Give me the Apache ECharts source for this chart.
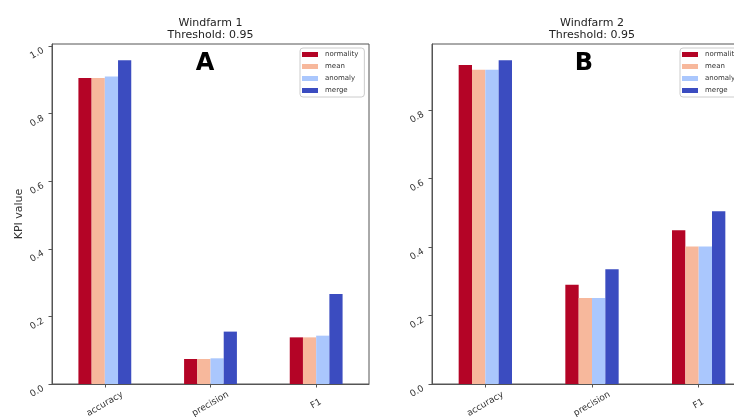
<!DOCTYPE html>
<html>
<head>
<meta charset="utf-8">
<script src="https://cdn.jsdelivr.net/npm/echarts@6/dist/echarts.min.js"></script>
<style>
  html, body { margin: 0; padding: 0; background: #fff; }
  #chart { width: 734px; height: 417px; }
</style>
</head>
<body>
<div id="chart"></div>
<script>
// KPI categories and method names
const categories = ['accuracy', 'precision', 'F1'];
const methods = ['normality', 'mean', 'anomaly', 'merge'];
const methodColors = ['#b40426', '#f7b89c', '#aac7fd', '#3b4cc0'];

// Windfarm 1 KPI values per method (accuracy, precision, F1)
const wf1Normality = [0.905, 0.074, 0.138];
const wf1Mean      = [0.905, 0.074, 0.138];
const wf1Anomaly   = [0.910, 0.076, 0.143];
const wf1Merge     = [0.958, 0.155, 0.266];

// Windfarm 2 KPI values per method (accuracy, precision, F1)
const wf2Normality = [0.931, 0.290, 0.449];
const wf2Mean      = [0.917, 0.251, 0.401];
const wf2Anomaly   = [0.917, 0.251, 0.401];
const wf2Merge     = [0.945, 0.335, 0.504];

// y tick labels
const yTicks1 = [0.0, 0.2, 0.4, 0.6, 0.8, 1.0];
const yTicks2 = [0.0, 0.2, 0.4, 0.6, 0.8];

const titles = ['Windfarm 1\nThreshold: 0.95', 'Windfarm 2\nThreshold: 0.95'];
const panelLetters = ['A', 'B'];

const wf1 = [wf1Normality, wf1Mean, wf1Anomaly, wf1Merge];
const wf2 = [wf2Normality, wf2Mean, wf2Anomaly, wf2Merge];

// upper limit with a 5% headroom above the tallest bar
const topOf = sets => Math.max(...sets.flat()) * 1.05;

const FONT = 'DejaVu Sans';
const AXIS_COLOR = '#555';
const TEXT_COLOR = '#333';

const chart = echarts.init(document.getElementById('chart'), null, { renderer: 'canvas' });

function xAxisFor(gridIndex) {
  return {
    type: 'category', gridIndex, data: categories,
    boundaryGap: true,
    axisLine: { show: true, lineStyle: { color: AXIS_COLOR, width: 1 } },
    axisTick: { show: true, alignWithLabel: true, length: 3.5, lineStyle: { color: AXIS_COLOR } },
    axisLabel: {
      interval: 0, rotate: 30, margin: 20, align: 'center', verticalAlign: 'middle',
      fontFamily: FONT, fontSize: 9, color: TEXT_COLOR
    },
    splitLine: { show: false }
  };
}

function yAxisFor(gridIndex, max, ticks, name) {
  return {
    type: 'value', gridIndex, min: 0, max,
    name, nameLocation: 'middle', nameGap: 27, nameRotate: 90,
    nameTextStyle: { fontFamily: FONT, fontSize: 11, color: TEXT_COLOR },
    axisLine: { show: true, lineStyle: { color: AXIS_COLOR, width: 1 } },
    axisTick: { show: true, length: 3.5, customValues: ticks, lineStyle: { color: AXIS_COLOR } },
    axisLabel: {
      customValues: ticks, rotate: 30, margin: 11, verticalAlign: 'top',
      formatter: v => v.toFixed(1),
      fontFamily: FONT, fontSize: 9, color: TEXT_COLOR
    },
    splitLine: { show: false }
  };
}

function legendAt(left) {
  return {
    data: methods, orient: 'vertical', left, top: 48,
    icon: 'rect', itemWidth: 16, itemHeight: 5, itemGap: 5,
    padding: [3, 6, 3, 2],
    borderColor: '#ccc', borderWidth: 1, borderRadius: 3,
    backgroundColor: 'rgba(255,255,255,0.8)',
    textStyle: { fontFamily: FONT, fontSize: 7, color: TEXT_COLOR, padding: [0, 0, 0, 2] },
    selectedMode: false
  };
}

const series = [];
[wf1, wf2].forEach((sets, gi) => {
  sets.forEach((vals, mi) => {
    series.push({
      type: 'bar', name: methods[mi],
      xAxisIndex: gi, yAxisIndex: gi,
      data: vals,
      barWidth: '12.5%', barGap: '0%',
      itemStyle: { color: methodColors[mi] },
      emphasis: { disabled: true }
    });
  });
});

const grids = [
  { left: 52, top: 44, width: 317, height: 340 },
  { left: 432, top: 44, width: 320, height: 340 }
];

// panel titles and the bold panel letters
const letterX = [205, 584];
const graphics = [];
grids.forEach((g, i) => {
  graphics.push({
    type: 'text', x: g.left + g.width / 2, y: 29,
    style: { text: titles[i], align: 'center', verticalAlign: 'middle',
             font: '11px "DejaVu Sans"', lineHeight: 12, fill: '#222' }
  });
  graphics.push({
    type: 'text', x: letterX[i], y: 64,
    style: { text: panelLetters[i], align: 'center', verticalAlign: 'middle',
             font: 'bold 24px "DejaVu Sans"', fill: '#000' }
  });
});

chart.setOption({
  animation: false,
  backgroundColor: '#fff',
  grid: grids.map(g => Object.assign({
    show: true, borderColor: AXIS_COLOR, borderWidth: 1, backgroundColor: 'transparent',
    containLabel: false, outerBoundsMode: 'none'
  }, g)),
  xAxis: [xAxisFor(0), xAxisFor(1)],
  yAxis: [yAxisFor(0, topOf(wf1), yTicks1, 'KPI value'), yAxisFor(1, topOf(wf2), yTicks2, '')],
  legend: [legendAt(300), legendAt(680)],
  graphic: graphics,
  series
});
</script>
</body>
</html>
